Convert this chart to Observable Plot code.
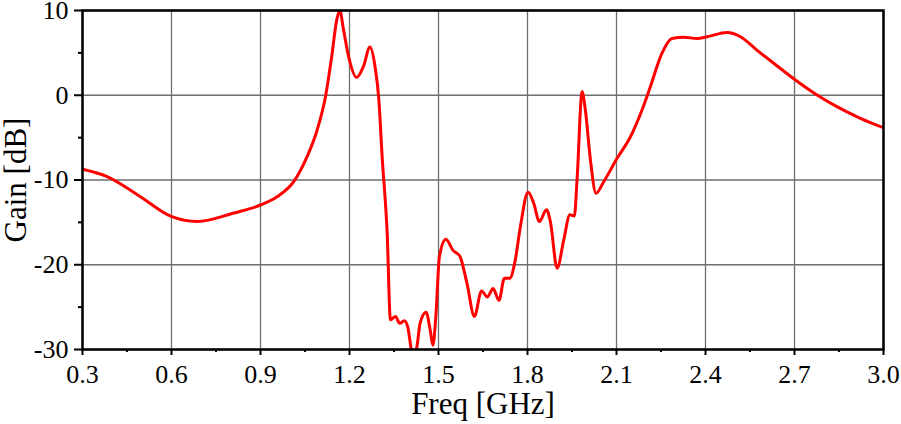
<!DOCTYPE html>
<html>
<head>
<meta charset="utf-8">
<script src="https://cdn.jsdelivr.net/npm/d3@7"></script>
<script src="https://cdn.jsdelivr.net/npm/@observablehq/plot@0.6"></script>
<style>
  html, body { margin: 0; padding: 0; background: #fff; }
  #chart { width: 901px; height: 424px; }
</style>
</head>
<body>
<div id="chart"></div>
<script>
const freq = [
  0.300, 0.383, 0.495, 0.599, 0.687, 0.810, 0.900, 0.956, 1.012, 1.057,
  1.091, 1.119, 1.140, 1.157, 1.167, 1.180, 1.197, 1.224, 1.247, 1.269,
  1.286, 1.299, 1.310, 1.327, 1.338, 1.355, 1.369, 1.385, 1.396, 1.411,
  1.418, 1.428, 1.438, 1.458, 1.472, 1.481, 1.491, 1.503, 1.525, 1.549,
  1.572, 1.596, 1.621, 1.645, 1.665, 1.684, 1.704, 1.722, 1.740, 1.759,
  1.776, 1.802, 1.821, 1.840, 1.864, 1.877, 1.900, 1.922, 1.943, 1.958,
  1.967, 1.984, 1.995, 2.012, 2.031, 2.057, 2.102, 2.147, 2.186, 2.214,
  2.253, 2.287, 2.327, 2.372, 2.405, 2.473, 2.518, 2.574, 2.630, 2.703,
  2.776, 2.843, 2.922, 3.000
];
const gain = [
  -8.74, -9.6, -11.97, -14.3, -14.9, -13.9, -12.95, -11.97, -10.2, -7.25,
  -4.1, -0.17, 4.55, 8.9, 10.0, 7.7, 4.55, 2.1, 3.4, 5.7,
  3.4, -0.56, -7.25, -16.3, -26.5, -26.1, -26.9, -26.6, -27.3, -30.5,
  -31.0, -29.5, -26.9, -25.6, -27.7, -29.5, -26.1, -19.05, -17.0, -18.3,
  -19.0, -22.2, -26.1, -23.1, -23.8, -22.8, -24.2, -21.6, -21.6, -19.4,
  -15.5, -11.45, -12.75, -14.9, -13.5, -14.9, -20.4, -17.1, -14.1, -14.25,
  -10.0, 0.42, -1.74, -7.6, -11.57, -10.2, -7.44, -4.9, -1.74, 1.0,
  4.95, 6.7, 6.84, 6.7, 6.9, 7.4, 6.9, 5.3, 3.77, 1.8,
  0.03, -1.35, -2.72, -3.83
];
const xTicks = [0.3, 0.6, 0.9, 1.2, 1.5, 1.8, 2.1, 2.4, 2.7, 3.0];
const xMinor = [0.45, 0.75, 1.05, 1.35, 1.65, 1.95, 2.25, 2.55, 2.85];
const yTicks = [-30, -20, -10, 0, 10];
const yMinor = [-25, -15, -5, 5];
const xLabel = "Freq [GHz]";
const yLabel = "Gain [dB]";

const data = freq.map((f, i) => ({f, g: gain[i]}));
const serif = "'Liberation Serif', 'Times New Roman', serif";

const chart = Plot.plot({
  width: 901,
  height: 424,
  marginLeft: 82,
  marginRight: 18,
  marginTop: 10,
  marginBottom: 75,
  style: {fontFamily: serif, background: "#fff", color: "#000"},
  x: {domain: [0.3, 3.0]},
  y: {domain: [-30, 10]},
  marks: [
    Plot.gridX(xTicks, {stroke: "#6e6e6e", strokeOpacity: 1, strokeWidth: 1.3}),
    Plot.gridY(yTicks, {stroke: "#6e6e6e", strokeOpacity: 1, strokeWidth: 1.3}),
    Plot.line(data, {x: "f", y: "g", stroke: "#ff0000", strokeWidth: 3, curve: "monotone-x", clip: true}),
    Plot.frame({stroke: "#000", strokeWidth: 2.5}),
    Plot.axisX(xTicks, {tickSize: 6, text: null, strokeWidth: 2, label: null}),
    Plot.axisX(xMinor, {tickSize: 3, text: null, strokeWidth: 2, label: null}),
    Plot.axisY(yTicks, {tickSize: 8, text: null, strokeWidth: 2, label: null}),
    Plot.axisY(yMinor, {tickSize: 4, text: null, strokeWidth: 2, label: null}),
    Plot.text(xTicks, {x: d => d, text: d => d.toFixed(1), frameAnchor: "bottom", lineAnchor: "middle", textAnchor: "middle", dy: 25, fontSize: 26, fontFamily: serif, fill: "#000"}),
    Plot.text(yTicks, {y: d => d, text: d => String(d), frameAnchor: "left", lineAnchor: "middle", textAnchor: "end", dx: -14, fontSize: 26, fontFamily: serif, fill: "#000"}),
    Plot.text([xLabel], {text: d => d, frameAnchor: "bottom", lineAnchor: "middle", textAnchor: "middle", dy: 55, fontSize: 31, fontFamily: serif, fill: "#000"}),
    Plot.text([yLabel], {text: d => d, frameAnchor: "left", lineAnchor: "middle", textAnchor: "middle", dx: -66, rotate: -90, fontSize: 31, fontFamily: serif, fill: "#000"})
  ]
});
document.getElementById("chart").appendChild(chart);
</script>
</body>
</html>
